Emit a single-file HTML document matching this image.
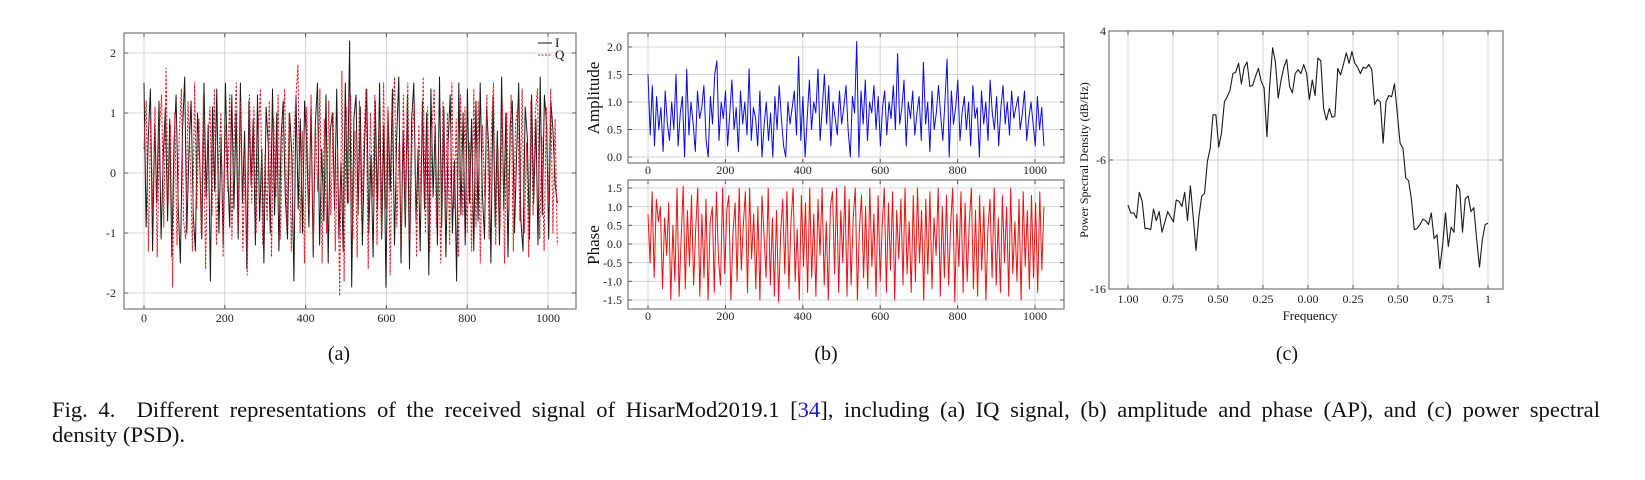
<!DOCTYPE html>
<html><head><meta charset="utf-8">
<style>
html,body{margin:0;padding:0;background:#fff;}
body{width:1645px;height:480px;position:relative;overflow:hidden;font-family:"Liberation Serif",serif;}
svg{position:absolute;left:0;top:0;}
#caption{position:absolute;left:52px;top:397px;width:1548px;font-size:22.6px;line-height:25px;color:#111;}
#caption .l1{display:block;text-align:justify;text-align-last:justify;white-space:nowrap;}
#caption a{color:#1a1acc;text-decoration:none;}
</style></head>
<body>
<svg id="fig" width="1645" height="480"></svg>
<div id="caption"><span class="l1">Fig. 4.&nbsp; Different representations of the received signal of HisarMod2019.1 [<a>34</a>], including (a) IQ signal, (b) amplitude and phase (AP), and (c) power spectral</span>density (PSD).</div>
<script>
// ---- data ----
const iqXTicks=[0,200,400,600,800,1000];
const iqYTicks=[-2,-1,0,1,2];
const iSeries=[1.5,-0.9,0.6,1.4,-1.3,0.8,-0.5,1.2,-1.1,0.3,1.1,-0.8,0.9,-1.4,0.5,1.3,-0.6,-1.5,0.7,1.6,-1.0,0.4,1.2,-0.7,-1.3,1.0,0.2,-1.1,1.5,-0.4,0.8,-1.8,1.1,-0.3,1.4,-1.0,0.6,-1.2,1.5,0.1,-0.9,1.3,-0.6,1.0,-1.1,1.5,-0.5,0.7,-1.6,1.2,-0.2,0.9,-1.2,1.3,-0.8,0.4,-1.5,1.1,0.5,-1.0,1.4,-0.7,1.0,-1.3,0.6,1.2,-0.4,-1.1,1.0,0.3,-1.8,1.3,-0.6,0.9,-1.0,1.2,0.5,-0.9,1.1,-1.4,0.8,1.5,-1.2,0.4,-0.8,1.3,-1.5,0.7,1.0,-0.6,1.4,-1.1,0.2,-1.3,1.5,-0.5,2.2,-1.9,0.9,1.3,-0.7,1.1,-1.2,0.5,1.4,-1.0,0.3,-1.4,1.2,-0.6,1.5,-1.1,0.8,-1.9,1.0,-0.3,1.4,-1.2,0.6,1.6,-1.5,0.7,-0.9,1.3,-1.6,0.9,1.5,-0.8,0.4,-1.3,1.2,-0.6,1.0,-1.7,1.4,-0.4,0.8,-1.2,1.6,-0.9,1.1,-1.4,0.5,1.3,-1.0,0.2,-1.8,1.5,-0.7,1.0,-1.2,1.4,-0.5,0.9,-1.3,1.2,-0.8,1.5,-0.3,-1.1,1.1,0.4,-1.5,1.3,-0.9,0.7,-1.2,1.6,-0.6,1.0,-1.4,0.8,1.2,-1.0,0.3,1.5,-0.8,-1.3,1.1,0.6,-1.1,1.3,-0.5,0.9,-1.2,1.6,-0.7,1.3,0.8,-1.1,1.2,0.7,-0.2,-0.5];
const qSeries=[0.4,1.2,-1.3,0.9,-0.6,1.1,-1.4,0.7,1.3,-0.9,1.75,-0.5,0.8,-1.9,1.0,-1.2,0.6,1.4,-0.8,-1.1,1.2,0.3,-1.3,1.5,-0.6,0.9,-1.0,1.3,-1.6,0.5,1.1,-0.7,1.4,-1.2,0.2,1.0,-1.4,0.8,-0.3,1.3,-1.1,0.6,1.5,-0.9,1.2,-1.3,0.4,-1.7,1.3,-0.5,1.1,-1.0,0.7,1.4,-1.2,0.3,-0.8,1.2,-1.4,0.9,-0.4,1.3,-1.1,0.6,1.4,-0.9,1.0,-1.3,0.5,1.2,1.8,-1.0,0.7,-1.5,1.1,-0.6,1.3,-1.2,0.8,-0.3,1.4,-1.5,0.9,-1.0,1.2,-0.7,1.0,-1.3,0.4,-2.05,1.7,-1.8,1.1,-0.5,1.3,-1.1,0.7,-1.4,1.2,-0.8,0.5,1.4,-1.6,1.0,-0.4,1.3,-1.2,0.8,-1.0,1.5,-0.6,1.1,-1.7,0.9,1.6,-0.9,0.5,-1.2,1.3,-0.7,1.5,-1.1,0.6,1.2,-1.4,0.8,-0.5,1.6,-1.0,1.1,-1.3,0.7,1.4,-0.9,0.4,-1.5,1.2,-0.8,1.0,-1.2,1.5,-0.6,0.9,-1.4,1.3,-0.7,1.1,-1.0,0.5,-1.3,1.4,-0.9,1.2,-1.5,0.8,-0.4,1.3,-1.1,0.7,1.5,-1.2,0.4,-0.9,1.2,-1.5,1.0,-0.6,1.3,-1.3,0.8,1.1,-0.8,1.4,-1.0,0.5,-1.4,1.2,-0.7,1.0,1.4,-1.1,0.6,-1.3,1.1,-0.5,1.4,-1.0,0.9,-1.2];
const ampXTicks=[0,200,400,600,800,1000];
const ampYTicks=[0.0,0.5,1.0,1.5,2.0];
const ampSeries=[1.5,0.4,1.3,0.2,1.1,0.5,0.9,0.1,1.2,0.6,0.3,1.0,0.5,1.5,0.2,0.8,1.1,0.0,1.6,0.4,1.0,0.6,0.1,1.2,0.7,0.9,1.3,0.3,0.0,1.1,0.6,1.5,1.75,0.3,1.0,0.7,1.2,0.2,0.8,1.4,0.5,0.9,0.1,1.2,0.6,1.0,0.4,1.6,0.3,0.9,0.7,0.2,1.2,0.0,0.6,1.0,0.3,0.8,0.0,1.1,0.5,1.3,0.7,0.2,0.0,1.0,0.6,0.9,1.2,0.4,1.82,0.3,1.1,0.0,0.7,1.4,0.5,1.0,0.8,1.6,0.3,0.9,1.5,0.6,1.3,0.2,1.0,0.7,0.4,1.2,0.6,0.9,1.3,0.5,0.0,1.1,0.8,2.1,0.0,1.2,0.6,1.4,0.3,1.0,0.8,1.3,0.5,1.1,0.2,0.9,1.2,0.4,1.0,0.7,1.3,0.5,1.88,0.6,0.9,1.4,0.2,1.0,0.7,1.2,0.4,0.8,1.1,0.3,1.72,0.6,1.0,0.1,1.2,0.5,0.8,1.3,0.78,0.3,1.0,1.78,0.0,1.2,0.6,0.9,1.4,0.3,0.8,1.1,0.5,1.0,0.2,1.3,0.7,0.9,0.0,1.2,0.6,1.0,0.3,1.4,0.8,0.5,1.1,0.2,0.9,1.3,0.6,1.0,0.4,1.2,0.7,0.9,1.1,0.5,0.8,1.2,0.3,0.7,1.0,0.6,0.2,1.1,0.5,0.9,0.2];
const phXTicks=[0,200,400,600,800,1000];
const phYTicks=[-1.5,-1.0,-0.5,0.0,0.5,1.0,1.5];
const phaseSeries=[0.8,-0.5,1.4,-0.9,1.2,0.6,1.0,-1.2,0.7,-0.3,1.1,-1.5,0.5,-1.0,1.5,-1.4,0.2,1.55,-1.2,0.9,-0.6,1.3,-1.1,0.4,1.5,-1.4,0.8,-0.9,1.2,-1.5,0.6,1.0,-1.3,1.4,-0.4,-1.1,1.5,-0.8,0.9,1.3,-1.5,0.3,1.1,-1.0,1.5,-0.7,0.5,1.4,-1.3,1.5,-0.4,0.8,-1.2,1.0,-1.5,1.3,0.2,-0.9,1.5,-1.1,0.7,-1.4,0.9,-1.55,0.3,1.2,-0.8,1.4,-1.2,0.6,1.5,-1.0,0.4,-1.5,1.3,-0.6,1.1,-1.3,1.5,-0.9,0.8,-1.4,1.2,-0.3,1.5,-1.1,0.6,-1.5,1.0,1.4,-0.8,1.5,-1.3,0.9,-0.5,1.55,-1.4,1.2,-1.1,0.7,1.5,-1.5,0.4,1.3,-0.9,1.0,-1.2,1.5,-0.6,0.8,-1.4,1.3,-1.0,0.5,1.5,-1.3,1.1,-0.7,1.4,-1.5,0.9,-0.4,1.2,-1.1,1.5,-0.8,0.6,-1.3,1.3,-1.0,1.5,-0.5,0.9,-1.5,1.2,-0.8,1.4,-1.2,0.7,-0.3,1.5,-1.4,1.0,-0.9,1.3,-1.1,0.5,1.5,-1.55,0.8,-0.6,1.4,-1.3,1.1,-1.0,0.6,1.5,-1.2,0.9,-1.4,1.3,-0.7,1.0,-1.5,0.4,1.2,-0.9,1.5,-1.1,0.7,-1.3,1.3,-0.5,1.0,-1.4,1.5,-0.8,0.6,-1.0,1.2,-1.5,1.4,-0.6,0.9,-1.2,1.3,-0.9,1.1,-1.3,1.4,-0.7,1.0];
const psdXTickLabels=["1.00","0.75","0.50","0.25","0.00","0.25","0.50","0.75","1"];
const psdXTicks=[-1,-0.75,-0.5,-0.25,0,0.25,0.5,0.75,1];
const psdYTicks=[-16,-6,4];
const psdSeries=[-9.5,-10.1,-10.1,-10.5,-8.5,-9.2,-11.3,-11.3,-11.4,-9.8,-10.7,-10.0,-11.6,-10.8,-10.0,-10.4,-10.8,-9.1,-9.2,-9.6,-8.5,-10.7,-8.0,-10.4,-13.0,-10.4,-8.8,-8.6,-6.1,-5.1,-2.5,-2.5,-5.0,-3.9,-1.5,-1.1,-0.6,0.7,0.8,1.5,-0.1,1.2,1.6,-0.3,-0.2,0.5,1.1,0.1,-0.4,-4.2,-0.2,2.7,1.6,-1.2,0.2,1.2,1.8,-0.3,-0.8,0.7,1.0,0.7,1.4,0.7,-1.3,0.2,-1.0,1.9,1.7,-2.0,-2.9,-2.0,-2.7,-2.6,1.1,0.6,1.4,2.3,1.5,2.4,1.5,1.2,0.7,1.2,1.1,1.4,1.0,-1.7,-1.3,-1.5,-4.7,-1.5,-1.0,-1.1,-0.1,-2.4,-4.7,-5.1,-7.4,-7.6,-9.1,-11.4,-11.3,-11.0,-10.6,-10.7,-11.0,-10.1,-12.1,-11.8,-14.4,-12.6,-10.1,-12.7,-11.2,-11.6,-7.9,-8.3,-11.6,-9.0,-8.8,-10.0,-9.7,-12.2,-14.3,-12.2,-11.0,-10.9];

const NS="http://www.w3.org/2000/svg";
const svg=document.getElementById('fig');
function mk(tag,attrs,parent){const e=document.createElementNS(NS,tag);for(const k in attrs)e.setAttribute(k,attrs[k]);(parent||svg).appendChild(e);return e;}
function lin(d0,d1,r0,r1){return v=>r0+(v-d0)*(r1-r0)/(d1-d0);}

function panel(name,box,xs,ys,xTicks,xLabels,yTicks,yLabels,opts){
  const g=mk('g',{});
  
  
  const grid=mk('g',{},g);
  
  
  xTicks.forEach(t=>{mk('line',{x1:xs(t),x2:xs(t),y1:box.y,y2:box.y+box.h,stroke:'#d4d4d4','stroke-width':1},grid);});
  (opts.hgrid||yTicks).forEach(t=>{mk('line',{x1:box.x,x2:box.x+box.w,y1:ys(t),y2:ys(t),stroke:'#d4d4d4','stroke-width':1},grid);});
  const xa=mk('g',{},g);
  
  
  xTicks.forEach((t,i)=>{
    mk('line',{x1:xs(t),x2:xs(t),y1:box.y+box.h,y2:box.y+box.h-4,stroke:'#555'},xa);
    mk('line',{x1:xs(t),x2:xs(t),y1:box.y,y2:box.y+4,stroke:'#555'},xa);
    const tx=mk('text',{x:xs(t),y:box.y+box.h+opts.xlo,'text-anchor':'middle','font-size':opts.fs,fill:'#222','font-family':'Liberation Serif, serif'},xa);
    tx.textContent=xLabels[i];
  });
  const ya=mk('g',{},g);
  
  
  yTicks.forEach((t,i)=>{
    mk('line',{x1:box.x,x2:box.x+4,y1:ys(t),y2:ys(t),stroke:'#555'},ya);
    mk('line',{x1:box.x+box.w,x2:box.x+box.w-4,y1:ys(t),y2:ys(t),stroke:'#555'},ya);
    const tx=mk('text',{x:box.x-opts.ylo,y:ys(t)+opts.fs*0.35,'text-anchor':'end','font-size':opts.fs,fill:'#222','font-family':'Liberation Serif, serif'},ya);
    tx.textContent=yLabels[i];
  });
  return g;
}
function series(g,name,data,xs,ys,xOf,stroke,dash,w){
  const pts=data.map((v,i)=>xs(xOf(i,data.length)).toFixed(1)+','+ys(v).toFixed(1)).join(' ');
  const p=mk('polyline',{points:pts,fill:'none',stroke:stroke,'stroke-width':w,'stroke-linejoin':'round'},g);
  if(dash)p.setAttribute('stroke-dasharray',dash);
  
  
}
function frame(g,box){
  const r=mk('rect',{x:box.x,y:box.y,width:box.w,height:box.h,fill:'none',stroke:'#777','stroke-width':1.2},g);
  
  
}
function label(txt,x,y,fs,name,rot){
  const t=mk('text',{x:x,y:y,'text-anchor':'middle','font-size':fs,fill:'#111','font-family':'Liberation Serif, serif'});
  if(rot)t.setAttribute('transform','rotate(-90 '+x+' '+y+')');
  t.textContent=txt;
  
  
}
const sampleX=(i,n)=>i*1023/(n-1);

// ---- panel a ----
const boxA={x:124,y:33,w:452,h:276};
const xsA=lin(0,1000,144,548), ysA=lin(0,1,173,113);
const gA=panel('iq-chart',boxA,xsA,ysA,iqXTicks,iqXTicks.map(String),iqYTicks,iqYTicks.map(String),{fs:12,xlo:13,ylo:8});
series(gA,'i-series-line',iSeries,xsA,ysA,sampleX,'#1a1a1a',null,1);
series(gA,'q-series-line',qSeries,xsA,ysA,sampleX,'#e8141c','2.5,1.5',1);
frame(gA,boxA);
const lg=mk('g',{});


mk('line',{x1:538,x2:552,y1:43,y2:43,stroke:'#111'},lg);
const lt1=mk('text',{x:555,y:47,'font-size':13,fill:'#111','font-family':'Liberation Serif, serif'},lg);lt1.textContent='I';
mk('line',{x1:538,x2:552,y1:55,y2:55,stroke:'#e8141c','stroke-dasharray':'2,1.5'},lg);
const lt2=mk('text',{x:555,y:59,'font-size':13,fill:'#111','font-family':'Liberation Serif, serif'},lg);lt2.textContent='Q';
label('(a)',339,360,20,'subcaption-a');

// ---- panel b amplitude ----
const boxB1={x:628,y:33,w:436,h:130};
const xsB=lin(0,1000,648,1035), ysB1=lin(0,2,157,47);
const gB1=panel('amplitude-chart',boxB1,xsB,ysB1,ampXTicks,ampXTicks.map(String),ampYTicks,ampYTicks.map(v=>v.toFixed(1)),{fs:12,xlo:11,ylo:6});
series(gB1,'amplitude-line',ampSeries,xsB,ysB1,sampleX,'#0a0ae6',null,1);
frame(gB1,boxB1);
label('Amplitude',599,98,17,'amplitude-y-label',true);
// ---- panel b phase ----
const boxB2={x:628,y:180,w:436,h:129};
const ysB2=lin(-1.5,1.5,300,188);
const gB2=panel('phase-chart',boxB2,xsB,ysB2,phXTicks,phXTicks.map(String),phYTicks,phYTicks.map(v=>v.toFixed(1)),{fs:12,xlo:11,ylo:6});
series(gB2,'phase-line',phaseSeries,xsB,ysB2,sampleX,'#f01010',null,1);
frame(gB2,boxB2);
label('Phase',599,245,17,'phase-y-label',true);
label('(b)',826,360,20,'subcaption-b');

// ---- panel c ----
const boxC={x:1109,y:31,w:394,h:258};
const xsC=lin(-1,1,1128,1488), ysC=lin(-16,4,289,31);
const gC=panel('psd-chart',boxC,xsC,ysC,psdXTicks,psdXTickLabels,psdYTicks,psdYTicks.map(String),{fs:12,xlo:14,ylo:3});
series(gC,'psd-line',psdSeries,xsC,ysC,(i,n)=>-1+2*i/(n-1),'#1a1a1a',null,1.1);
frame(gC,boxC);
label('Frequency',1310,320,13,'psd-x-label');
label('Power Spectral Density (dB/Hz)',1088,160,12,'psd-y-label',true);
label('(c)',1287,360,20,'subcaption-c');
</script>
</body></html>
